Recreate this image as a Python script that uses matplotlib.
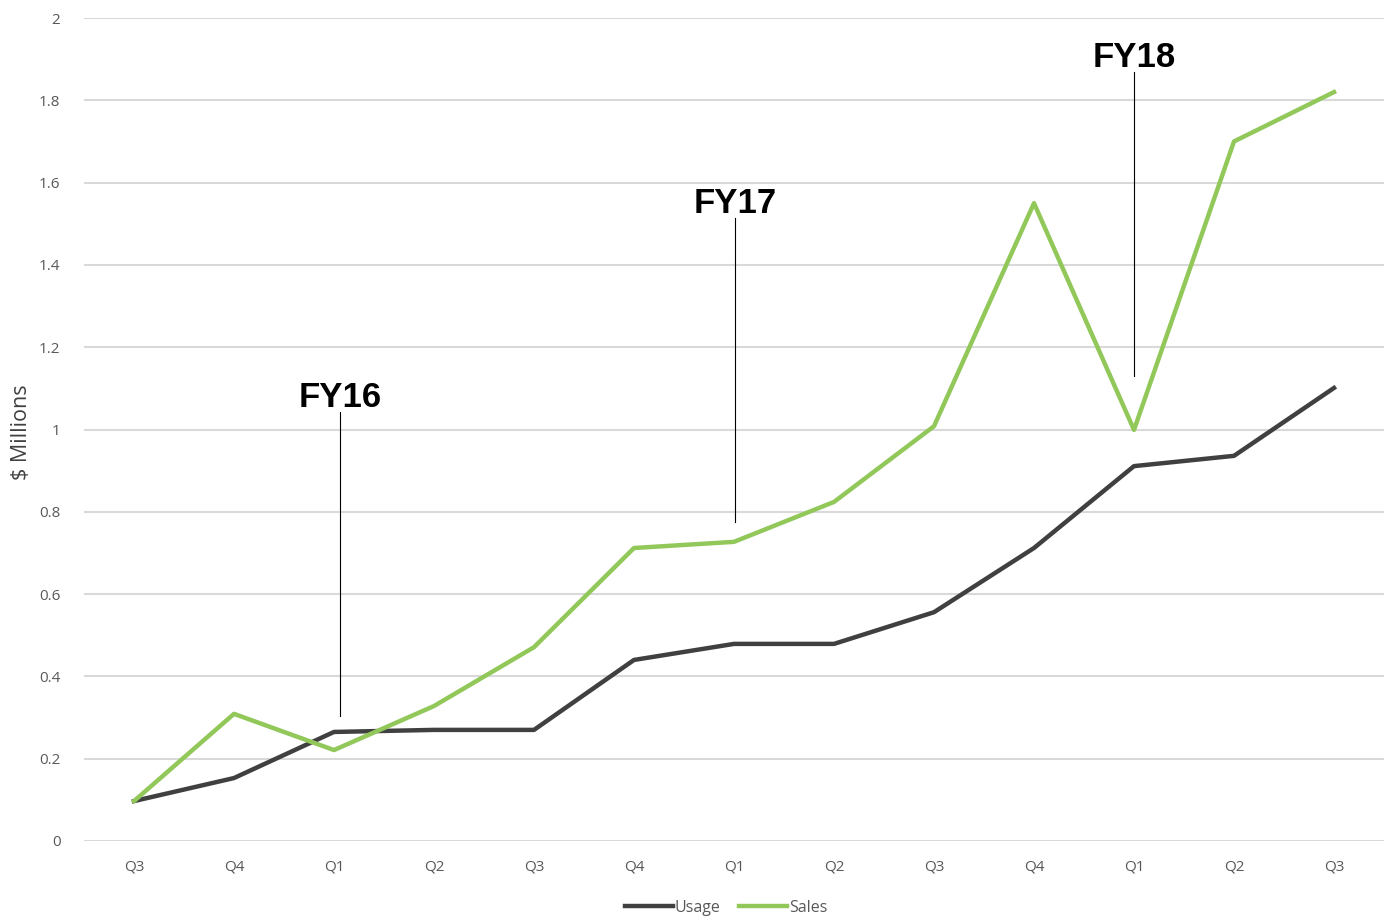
import matplotlib.pyplot as plt

# Data
quarters = ['Q3', 'Q4', 'Q1', 'Q2', 'Q3', 'Q4', 'Q1', 'Q2', 'Q3', 'Q4', 'Q1', 'Q2', 'Q3']
usage = [0.097, 0.153, 0.265, 0.27, 0.27, 0.44, 0.479, 0.479, 0.556, 0.712, 0.911, 0.936, 1.101]
sales = [0.097, 0.309, 0.221, 0.328, 0.471, 0.712, 0.727, 0.824, 1.008, 1.55, 0.999, 1.70, 1.82]

fy_labels = ['FY16', 'FY17', 'FY18']
fy_pos = [2.06, 6.01, 10.0]
fy_line_bottom = [0.304, 0.775, 1.13]
fy_line_top = [1.043, 1.514, 1.869]

fig = plt.figure(figsize=(13.91, 9.18), dpi=100)
ax = fig.add_axes([84 / 1391, 1 - 841 / 918, 1300 / 1391, 823 / 918])

x = list(range(len(quarters)))
ax.plot(x, usage, color='#404040', lw=3.2, label='Usage', solid_joinstyle='round')
ax.plot(x, sales, color='#92c85a', lw=3.2, label='Sales', solid_joinstyle='round')

# Fiscal year markers
for lbl, xp, y0, y1 in zip(fy_labels, fy_pos, fy_line_bottom, fy_line_top):
    ax.plot([xp, xp], [y0, y1], color='black', lw=0.8)
    ax.text(xp, y1 - 0.005, lbl, ha='center', va='bottom', fontsize=25,
            fontweight='bold', family='Liberation Sans', color='black')

ax.set_xlim(-0.5, len(quarters) - 0.5)
ax.set_ylim(0, 2)
ax.set_yticks([0, 0.2, 0.4, 0.6, 0.8, 1, 1.2, 1.4, 1.6, 1.8, 2])
ax.set_yticklabels(['0', '0.2', '0.4', '0.6', '0.8', '1', '1.2', '1.4', '1.6', '1.8', '2'])
ax.set_xticks(x)
ax.set_xticklabels(quarters)
ax.tick_params(axis='both', length=0, labelsize=11, labelcolor='#595959')
ax.tick_params(axis='y', pad=17)
ax.tick_params(axis='x', pad=13)
for t in ax.get_xticklabels() + ax.get_yticklabels():
    t.set_family('Open Sans')

ax.grid(axis='y', color='#d9d9d9', lw=1.5)
ax.set_axisbelow(True)
for s in ax.spines.values():
    s.set_visible(False)

fig.text(22 / 1391, 1 - 432 / 918, '$ Millions', rotation=90, ha='center', va='center',
         fontsize=15.5, color='#404040', family='Open Sans')

fig.legend(loc='center', bbox_to_anchor=(0.522, 1 - 908 / 918), ncol=2, frameon=False,
           handlelength=3, handletextpad=0.1, columnspacing=1.2,
           prop={'family': 'Open Sans', 'size': 11.5}, labelcolor='#595959')

fig.savefig('out.png', dpi=100)
